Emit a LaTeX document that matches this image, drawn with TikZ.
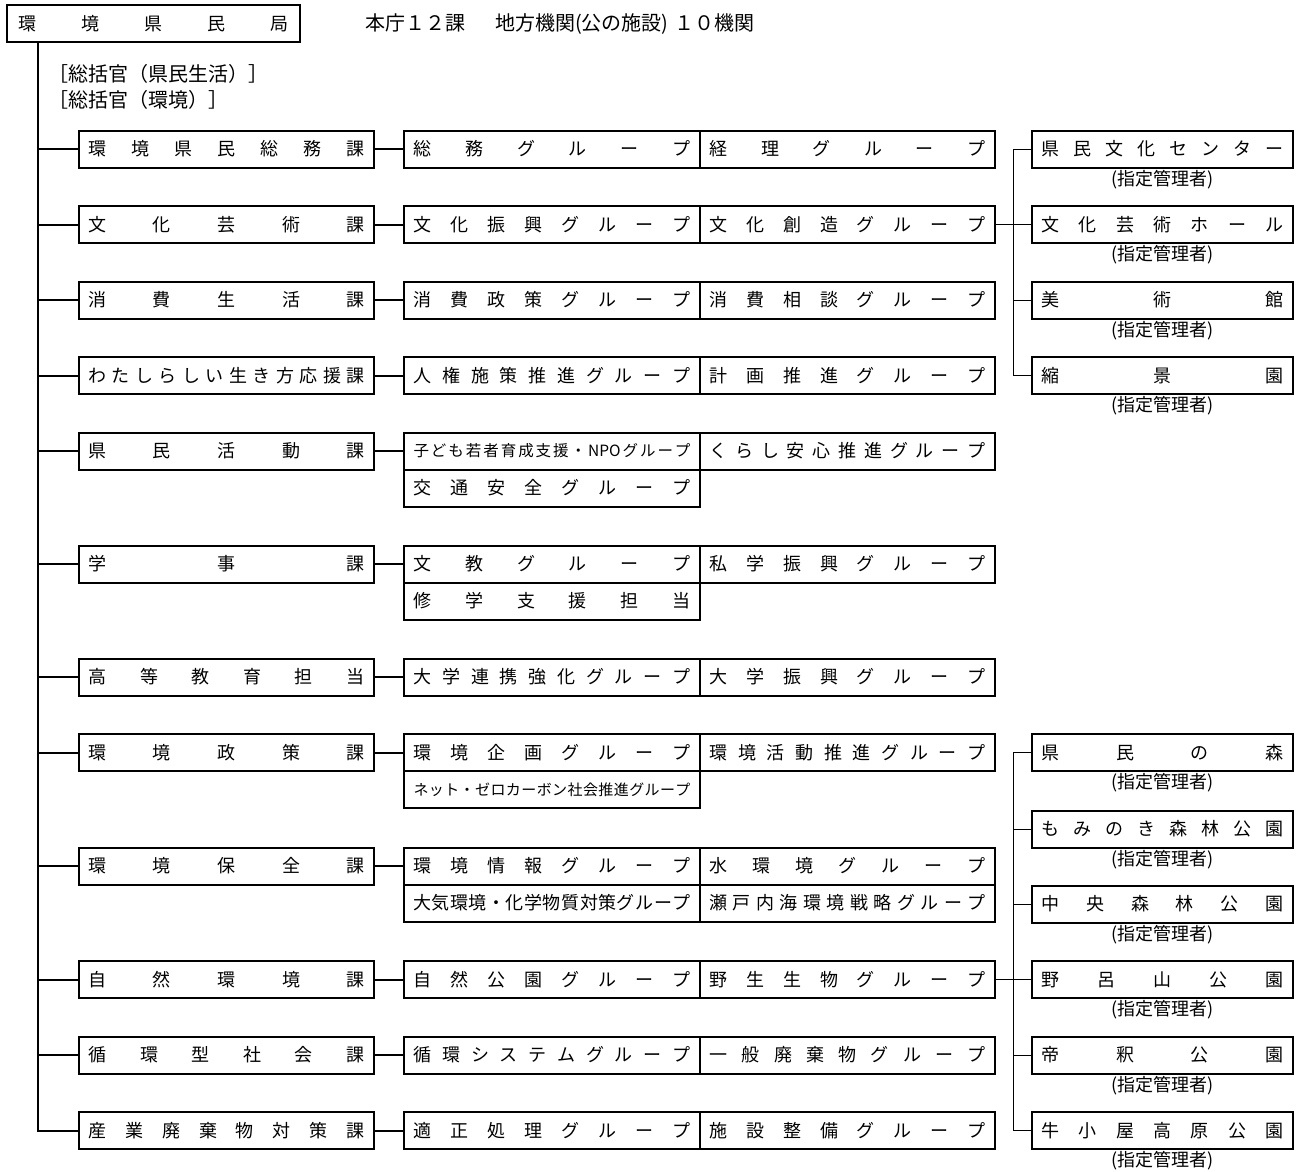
\documentclass[tikz,border=0pt]{standalone}
\usepackage{fontspec}
\setmainfont{Noto Sans CJK JP}
\ExplSyntaxOn
\NewDocumentCommand\dist{m m}{\makebox[#1]{\tl_map_inline:nn{#2}{##1\hfill}\unskip}}
\ExplSyntaxOff
\tikzset{
  bx/.style={draw, line width=2pt, inner sep=0pt, minimum height=37pt, font=\fontsize{18}{21}\selectfont},
  dept/.style={bx, minimum width=295pt},
  grp/.style={bx, minimum width=296pt},
  grpb/.style={bx, minimum width=295pt},
  fac/.style={bx, minimum width=261pt},
  conn/.style={line width=2pt},
  fconn/.style={line width=1pt},
  lbl/.style={font=\fontsize{18}{21}\selectfont, inner sep=0pt},
  plain/.style={anchor=west, inner sep=0pt, font=\fontsize{20}{24}\selectfont},
}
\newcommand\deptbox[3]{\node[dept] (#1) at (226.5,#2) {\dist{276pt}{#3}};}
\newcommand\gboxA[3]{\node[grp] (#1) at (552,#2) {\dist{277pt}{#3}};}
\newcommand\gboxB[3]{\node[grpb] (#1) at (847.5,#2) {\dist{276pt}{#3}};}
\newcommand\facbox[3]{\node[fac] (#1) at (1162.5,#2) {\dist{242pt}{#3}};
  \node[lbl] (#1l) at (1162.5,#2+30.5) {(指定管理者)};}
\begin{document}
\begin{tikzpicture}[x=1pt,y=-1pt]
\fill[white] (0,0) rectangle (1304,1171);
\useasboundingbox (0,0) rectangle (1304,1171);

\node[bx, minimum width=293pt] (top) at (153.5,23.5) {\dist{271pt}{環境県民局}};
\node[plain] (hdr) at (365,24) {本庁１２課\hspace{30pt}地方機関(公の施設)\hspace{6pt}１０機関};
\node[plain] (s1) at (48,74) {［総括官（県民生活）］};
\node[plain] (s2) at (48,100) {［総括官（環境）］};

% departments
\deptbox{d1}{149}{環境県民総務課}
\deptbox{d2}{224.5}{文化芸術課}
\deptbox{d3}{300}{消費生活課}
\deptbox{d4}{375.5}{わたしらしい生き方応援課}
\deptbox{d5}{451}{県民活動課}
\deptbox{d6}{564}{学事課}
\deptbox{d7}{677}{高等教育担当}
\deptbox{d8}{752.5}{環境政策課}
\deptbox{d9}{866}{環境保全課}
\deptbox{d10}{979.5}{自然環境課}
\deptbox{d11}{1055}{循環型社会課}
\deptbox{d12}{1130.5}{産業廃棄物対策課}

% groups
\gboxA{g1a}{149}{総務グループ}
\gboxB{g1b}{149}{経理グループ}
\gboxA{g2a}{224.5}{文化振興グループ}
\gboxB{g2b}{224.5}{文化創造グループ}
\gboxA{g3a}{300}{消費政策グループ}
\gboxB{g3b}{300}{消費相談グループ}
\gboxA{g4a}{375.5}{人権施策推進グループ}
\gboxB{g4b}{375.5}{計画推進グループ}
\node[grp, font=\fontsize{15.5}{18}\selectfont] (g5a) at (552,451) {\dist{277pt}{子ども若者育成支援・{NPO}グループ}};
\gboxB{g5b}{451}{くらし安心推進グループ}
\gboxA{g5c}{488}{交通安全グループ}
\gboxA{g6a}{564}{文教グループ}
\gboxB{g6b}{564}{私学振興グループ}
\gboxA{g6c}{601}{修学支援担当}
\gboxA{g7a}{677}{大学連携強化グループ}
\gboxB{g7b}{677}{大学振興グループ}
\gboxA{g8a}{752.5}{環境企画グループ}
\gboxB{g8b}{752.5}{環境活動推進グループ}
\node[grp, font=\fontsize{15}{18}\selectfont] (g8c) at (552,789.5) {\dist{277pt}{ネット・ゼロカーボン社会推進グループ}};
\gboxA{g9a}{866}{環境情報グループ}
\gboxB{g9b}{866}{水環境グループ}
\gboxA{g9c}{903}{大気環境・化学物質対策グループ}
\gboxB{g9d}{903}{瀬戸内海環境戦略グループ}
\gboxA{g10a}{979.5}{自然公園グループ}
\gboxB{g10b}{979.5}{野生生物グループ}
\gboxA{g11a}{1055}{循環システムグループ}
\gboxB{g11b}{1055}{一般廃棄物グループ}
\gboxA{g12a}{1130.5}{適正処理グループ}
\gboxB{g12b}{1130.5}{施設整備グループ}

% facilities
\facbox{f1}{149}{県民文化センター}
\facbox{f2}{224.5}{文化芸術ホール}
\facbox{f3}{300}{美術館}
\facbox{f4}{375.5}{縮景園}
\facbox{f5}{752.5}{県民の森}
\facbox{f6}{829}{もみのき森林公園}
\facbox{f7}{904}{中央森林公園}
\facbox{f8}{979.5}{野呂山公園}
\facbox{f9}{1055}{帝釈公園}
\facbox{f10}{1130.5}{牛小屋高原公園}

% trunk
\coordinate (tk) at (38,0);
\draw[conn] (tk |- top.south) |- (d12.west);
\foreach \i in {1,...,11} {\draw[conn] (tk |- d\i.west) -- (d\i.west);}
\foreach \i in {1,...,12} {\draw[conn] (d\i.east) -- (g\i a.west);}

% facility connectors
\coordinate (fx) at (1013,0);
\draw[fconn] (f1.west) -| (fx |- f4.west) -- (f4.west);
\draw[fconn] (g2b.east) -- (f2.west);
\draw[fconn] (fx |- f3.west) -- (f3.west);
\draw[fconn] (f5.west) -| (fx |- f10.west) -- (f10.west);
\foreach \i in {6,7,9} {\draw[fconn] (fx |- f\i.west) -- (f\i.west);}
\draw[fconn] (g10b.east) -- (f8.west);
\end{tikzpicture}
\end{document}
